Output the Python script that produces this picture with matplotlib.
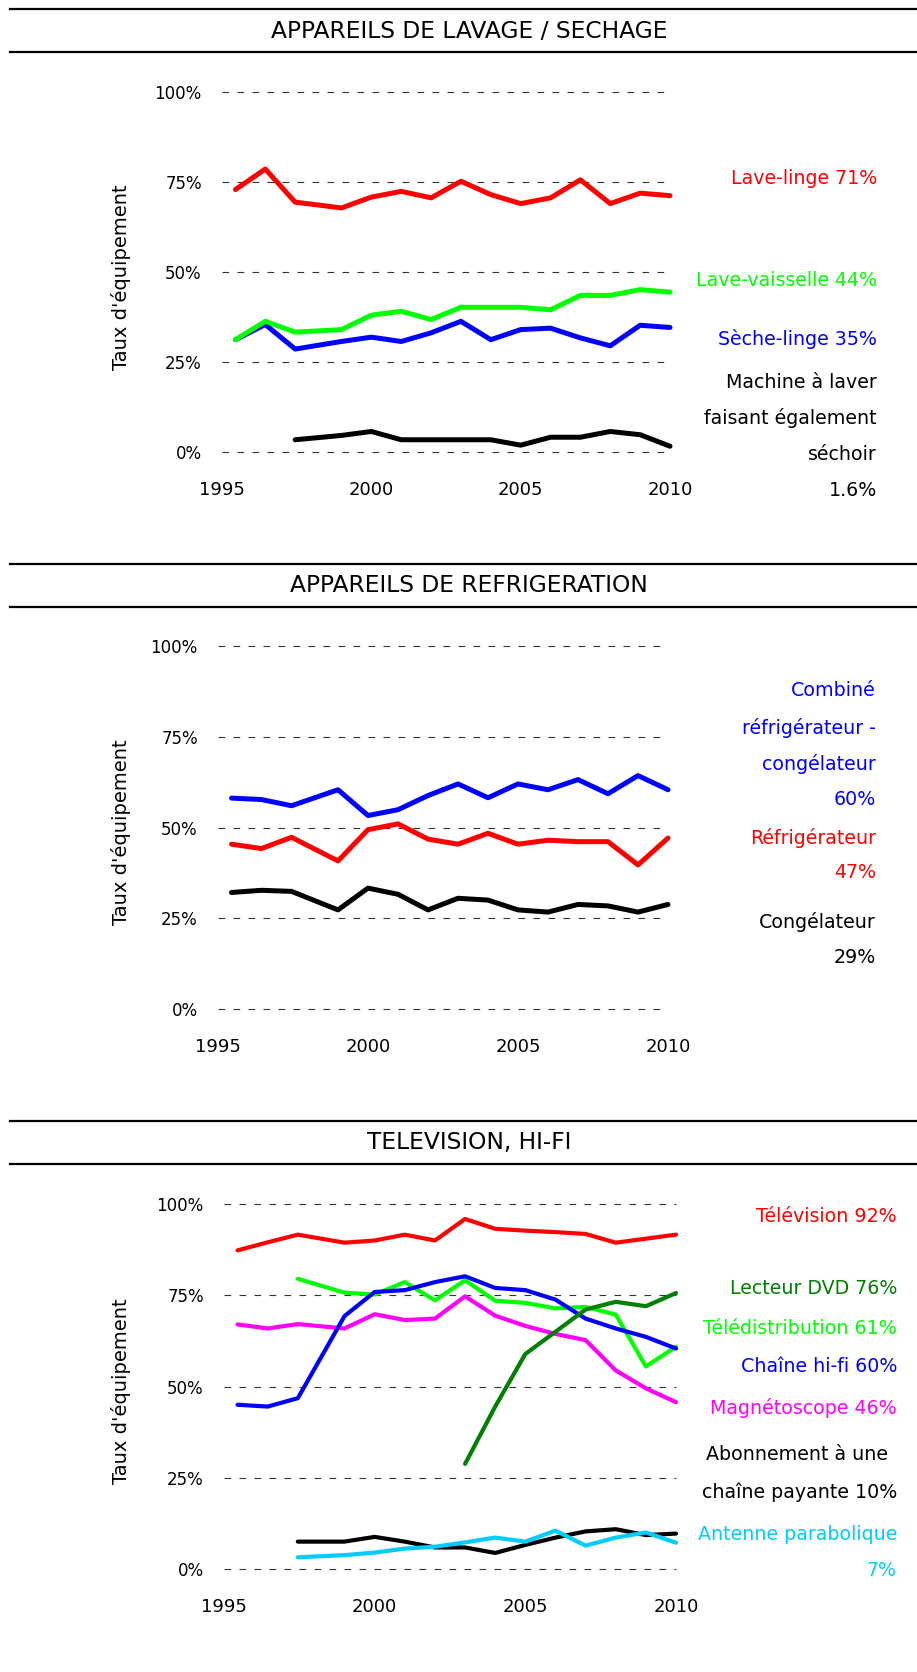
import matplotlib.pyplot as plt
from matplotlib.lines import Line2D
import numpy as np

nan = np.nan

# Années des enquêtes (pas d'enquête en 1998)
annees = [1995.45, 1996.45, 1997.45, 1999, 2000, 2001, 2002, 2003, 2004,
          2005, 2006, 2007, 2008, 2009, 2010]

# Appareils de lavage / séchage (%)
lave_linge = [72.9, 78.6, 69.4, 67.8, 70.8, 72.4, 70.6, 75.2, 71.5, 69.0, 70.6, 75.6, 69.0, 71.9, 71.2]
lave_vaisselle = [31.2, 36.3, 33.3, 34.0, 38.0, 39.1, 36.8, 40.2, 40.2, 40.2, 39.5, 43.5, 43.5, 45.1, 44.4]
seche_linge = [31.2, 35.4, 28.6, 30.7, 31.9, 30.7, 33.1, 36.3, 31.2, 34.0, 34.4, 31.7, 29.5, 35.2, 34.6]
lavante_sechante = [nan, nan, 3.4, 4.6, 5.7, 3.4, 3.4, 3.4, 3.4, 1.9, 4.1, 4.1, 5.7, 4.8, 1.6]

# Appareils de réfrigération (%)
combine = [58.1, 57.7, 56.0, 60.4, 53.3, 54.9, 58.8, 62.0, 58.2, 62.0, 60.4, 63.2, 59.3, 64.3, 60.4]
refrigerateur = [45.4, 44.2, 47.3, 40.8, 49.4, 51.0, 46.8, 45.4, 48.4, 45.4, 46.5, 46.1, 46.1, 39.7, 47.1]
congelateur = [32.1, 32.7, 32.4, 27.3, 33.3, 31.6, 27.3, 30.5, 30.0, 27.3, 26.7, 28.8, 28.4, 26.7, 28.8]

# Télévision, hi-fi (%)
television = [87.3, 89.5, 91.6, 89.4, 90.0, 91.6, 90.0, 95.9, 93.2, 92.7, 92.3, 91.8, 89.4, 90.5, 91.6]
magnetoscope = [67.0, 65.9, 67.1, 65.9, 69.8, 68.2, 68.6, 74.7, 69.4, 66.6, 64.4, 62.7, 54.4, 49.5, 45.7]
teledistribution = [nan, nan, 79.5, 75.7, 75.2, 78.6, 73.6, 79.1, 73.5, 72.9, 71.4, 71.8, 69.7, 55.5, 60.9]
chaine_hifi = [45.0, 44.5, 46.8, 69.3, 75.9, 76.4, 78.6, 80.2, 77.0, 76.4, 73.8, 68.6, 65.9, 63.6, 60.4]
lecteur_dvd = [nan, nan, nan, nan, nan, nan, nan, 28.8, 44.5, 58.9, 65.0, 71.1, 73.2, 72.0, 75.6]
chaine_payante = [nan, nan, 7.5, 7.5, 8.8, 7.5, 5.9, 5.9, 4.4, 6.6, 8.6, 10.3, 10.9, 9.3, 9.7]
parabole = [nan, nan, 3.2, 3.8, 4.5, 5.6, 6.1, 7.3, 8.6, 7.5, 10.5, 6.4, 8.6, 10.0, 7.2]

graduations = [0, 25, 50, 75, 100]

VERT_FONCE = '#008000'
CYAN = '#00CCFF'

W, H = 917, 1672
fig = plt.figure(figsize=(W / 100, H / 100), dpi=100)

def px_rect(x0, y0, x1, y1):
    return [x0 / W, 1 - y1 / H, (x1 - x0) / W, (y1 - y0) / H]

def fy(y):
    return 1 - y / H

# Chaque bloc : titre, zone du graphique (px), courbes, étiquettes à droite
panneaux = [
    {
        'titre': 'APPAREILS DE LAVAGE / SECHAGE',
        'regles': (9, 52), 'y_titre': 31.5,
        'zone': (222, 92, 670, 452), 'lw': 3.6, 'x_etiq': 877,
        'courbes': [(lave_linge, 'red'), (seche_linge, 'blue'),
                    (lave_vaisselle, '#00FF00'), (lavante_sechante, 'black')],
        'etiquettes': [('Lave-linge 71%', 179, 'red'),
                       ('Lave-vaisselle 44%', 281, '#00FF00'),
                       ('Sèche-linge 35%', 339, 'blue'),
                       ('Machine à laver', 383, 'black'),
                       ('faisant également', 418, 'black'),
                       ('séchoir', 455, 'black'),
                       ('1.6%', 491, 'black')],
    },
    {
        'titre': 'APPAREILS DE REFRIGERATION',
        'regles': (564, 607), 'y_titre': 586,
        'zone': (218, 646, 668, 1009), 'lw': 3.6, 'x_etiq': 876,
        'courbes': [(combine, 'blue'), (refrigerateur, 'red'), (congelateur, 'black')],
        'etiquettes': [('Combiné', 691, 'blue'),
                       ('réfrigérateur -', 728, 'blue'),
                       ('congélateur', 764, 'blue'),
                       ('60%', 799, 'blue'),
                       ('Réfrigérateur', 838, 'red'),
                       ('47%', 873, 'red'),
                       ('Congélateur', 922, 'black'),
                       ('29%', 958, 'black')],
    },
    {
        'titre': 'TELEVISION, HI-FI',
        'regles': (1121, 1164), 'y_titre': 1143,
        'zone': (224, 1204, 676, 1569), 'lw': 3.0, 'x_etiq': 897,
        'courbes': [(television, 'red'), (magnetoscope, '#FF00FF'),
                    (teledistribution, '#00FF00'), (chaine_hifi, 'blue'),
                    (lecteur_dvd, VERT_FONCE), (chaine_payante, 'black'),
                    (parabole, CYAN)],
        'etiquettes': [('Télévision 92%', 1217, 'red'),
                       ('Lecteur DVD 76%', 1288, VERT_FONCE),
                       ('Télédistribution 61%', 1328, '#00FF00'),
                       ('Chaîne hi-fi 60%', 1367, 'blue'),
                       ('Magnétoscope 46%', 1408, '#FF00FF'),
                       ('Abonnement à une', 1455, 'black', 888),
                       ('chaîne payante 10%', 1492, 'black'),
                       ('Antenne parabolique', 1535, CYAN),
                       ('7%', 1570, CYAN)],
    },
]

for p in panneaux:
    # Filets horizontaux autour du titre
    for y in p['regles']:
        fig.add_artist(Line2D([10 / W, 1], [fy(y), fy(y)], color='black', lw=1.6))
    fig.text(469 / W, fy(p['y_titre']), p['titre'], ha='center', va='center',
             fontsize=16.8, family='DejaVu Sans')

    x0, y0, x1, y1 = p['zone']
    ax = fig.add_axes(px_rect(x0, y0, x1, y1))

    # Quadrillage pointillé (tracé à la main pour que la ligne 0% reste entière)
    for g in graduations:
        ax.axhline(g, ls=(0, (6, 7.5)), lw=0.8, color='#333333', clip_on=False, zorder=1)

    for valeurs, couleur in p['courbes']:
        ax.plot(annees, valeurs, color=couleur, lw=p['lw'], clip_on=False,
                solid_capstyle='round', solid_joinstyle='round', zorder=2)

    ax.set_xlim(1995, 2010)
    ax.set_ylim(0, 100)
    ax.set_yticks(graduations)
    ax.set_yticklabels([f'{g}%' for g in graduations])
    ax.set_xticks([1995, 2000, 2005, 2010])
    for s in ax.spines.values():
        s.set_visible(False)
    ax.tick_params(axis='y', length=0, pad=14.5, labelsize=12)
    ax.tick_params(axis='x', length=0, pad=21, labelsize=13)

    fig.text(121 / W, fy((y0 + y1) / 2 + 5), "Taux d'équipement", rotation=90,
             ha='center', va='center', fontsize=14, family='DejaVu Sans')

    for etiq in p['etiquettes']:
        texte, y, couleur = etiq[:3]
        x = etiq[3] if len(etiq) > 3 else p['x_etiq']
        fig.text(x / W, fy(y), texte, ha='right', va='center', color=couleur,
                 fontsize=13.7, family='DejaVu Sans')

fig.savefig('out.png', dpi=100)
